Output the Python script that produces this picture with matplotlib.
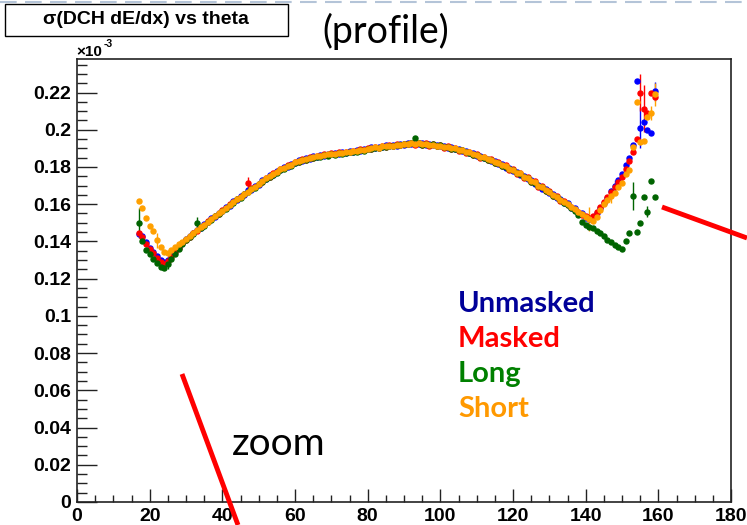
import numpy as np
import matplotlib
matplotlib.use("Agg")
import matplotlib.pyplot as plt
from matplotlib.ticker import MultipleLocator, FuncFormatter
from matplotlib.lines import Line2D
from matplotlib.patches import Rectangle

# theta bins (deg), one value per bin, y in units of 1e-3
theta = np.arange(17, 160)

unmasked = [
    .1440, .1430, .1395, .1365,
    .1345, .1320, .1298, .1290, .1302, .1325, .1348, .1372, .1392, .1412,
    .1431, .1443, .1462, .1472, .1494, .1502, .1524, .1531, .1555, .1561,
    .1585, .1592, .1616, .1622, .1646, .1650, .1674, .1678, .1700, .1703,
    .1728, .1733, .1755, .1758, .1779, .1782, .1800, .1802, .1818, .1820,
    .1835, .1834, .1847, .1845, .1857, .1853, .1865, .1861, .1872, .1867,
    .1876, .1872, .1880, .1876, .1886, .1879, .1891, .1887, .1898, .1894,
    .1905, .1900, .1909, .1906, .1916, .1911, .1919, .1915, .1924, .1919,
    .1928, .1922, .1932, .1921, .1930, .1918, .1923, .1917, .1919, .1911,
    .1913, .1904, .1905, .1895, .1897, .1885, .1886, .1873, .1873, .1860,
    .1860, .1846, .1845, .1831, .1830, .1815, .1814, .1797, .1795, .1778,
    .1774, .1756, .1752, .1734, .1729, .1709, .1705, .1684, .1680, .1658,
    .1655, .1633, .1628, .1605, .1604, .1578, .1580, .1551, .1552, .1528,
    .1520, .1530, .1555, .1580, .1605, .1635, .1670, .1700, .1730, .1760,
    .1810, .1850, .1920, .2260, .2010, .2044, .2000, .1980, .2206,
]
masked = [
    .1447, .1425, .1385, .1360,
    .1340, .1312, .1290, .1280, .1295, .1318, .1342, .1365, .1390, .1410,
    .1426, .1447, .1457, .1478, .1489, .1509, .1518, .1538, .1549, .1570,
    .1578, .1599, .1610, .1629, .1637, .1657, .1716, .1685, .1692, .1711,
    .1720, .1740, .1747, .1765, .1772, .1789, .1793, .1809, .1811, .1827,
    .1828, .1841, .1840, .1852, .1850, .1860, .1858, .1868, .1865, .1874,
    .1869, .1879, .1874, .1882, .1880, .1886, .1884, .1894, .1891, .1901,
    .1898, .1907, .1902, .1912, .1909, .1917, .1912, .1922, .1917, .1926,
    .1921, .1928, .1920, .1929, .1917, .1927, .1913, .1922, .1910, .1917,
    .1904, .1911, .1896, .1903, .1887, .1893, .1876, .1882, .1863, .1869,
    .1850, .1855, .1836, .1841, .1820, .1824, .1803, .1808, .1785, .1789,
    .1763, .1768, .1742, .1746, .1718, .1722, .1695, .1697, .1669, .1671,
    .1644, .1643, .1617, .1616, .1594, .1587, .1569, .1560, .1543, .1537,
    .1525, .1535, .1560, .1585, .1610, .1640, .1665, .1690, .1720, .1745,
    .1790, .1830, .1880, .1950, .2200, .2114, .2090, .2200, .2175,
]
long_ = [
    .1500, .1400, .1356, .1330,
    .1305, .1285, .1262, .1255, .1280, .1305, .1330, .1358, .1385, .1408,
    .1425, .1440, .1500, .1471, .1484, .1503, .1513, .1534, .1545, .1564,
    .1575, .1596, .1606, .1626, .1635, .1654, .1663, .1682, .1689, .1707,
    .1717, .1736, .1744, .1759, .1767, .1783, .1789, .1803, .1807, .1821,
    .1824, .1835, .1836, .1846, .1846, .1855, .1854, .1862, .1861, .1868,
    .1866, .1873, .1872, .1877, .1878, .1881, .1880, .1889, .1888, .1896,
    .1895, .1902, .1900, .1908, .1906, .1913, .1911, .1918, .1916, .1922,
    .1922, .1928, .1958, .1930, .1920, .1926, .1916, .1921, .1912, .1916,
    .1906, .1908, .1898, .1899, .1889, .1889, .1878, .1877, .1865, .1864,
    .1852, .1850, .1838, .1836, .1822, .1819, .1806, .1802, .1787, .1783,
    .1766, .1762, .1744, .1740, .1721, .1716, .1697, .1690, .1672, .1664,
    .1646, .1637, .1620, .1609, .1596, .1581, .1562, .1540, .1505, .1490,
    .1480, .1470, .1455, .1445, .1430, .1410, .1395, .1380, .1370, .1358,
    .1400, .1447, .1646, .1453, .1500, .1640, .1560, .1727, .1640,
]
short = [
    .1615, .1580, .1525, .1485,
    .1455, .1405, .1370, .1345, .1340, .1352, .1368, .1385, .1398, .1413,
    .1428, .1445, .1459, .1476, .1490, .1506, .1520, .1536, .1550, .1566,
    .1580, .1597, .1611, .1627, .1640, .1655, .1668, .1683, .1694, .1709,
    .1722, .1738, .1749, .1763, .1773, .1787, .1795, .1807, .1813, .1825,
    .1830, .1839, .1842, .1850, .1852, .1858, .1860, .1866, .1867, .1872,
    .1871, .1877, .1876, .1880, .1882, .1884, .1886, .1892, .1893, .1899,
    .1900, .1905, .1904, .1910, .1911, .1915, .1914, .1920, .1919, .1924,
    .1923, .1929, .1925, .1927, .1921, .1925, .1918, .1920, .1914, .1915,
    .1908, .1909, .1900, .1901, .1892, .1891, .1881, .1879, .1868, .1866,
    .1855, .1852, .1841, .1838, .1825, .1821, .1809, .1805, .1790, .1786,
    .1769, .1765, .1747, .1743, .1724, .1719, .1700, .1693, .1675, .1667,
    .1649, .1640, .1623, .1612, .1599, .1584, .1574, .1556, .1547, .1532,
    .1521, .1512, .1530, .1570, .1600, .1625, .1645, .1660, .1695, .1716,
    .1760, .1786, .1905, .2147, .1935, .1937, .2070, .2090, .2190,
]

# typical error and the bins where the error bar is clearly visible
base_err = 0.0010
unmasked_err = {155: 0.011, 159: 0.005, 148: 0.003}
masked_err = {47: 0.003, 155: 0.010, 156: 0.0125, 150: 0.003}
long_err = {17: 0.008, 33: 0.003, 153: 0.0075, 157: 0.003, 25: 0.003}
short_err = {22: 0.004, 141: 0.0065, 147: 0.004, 158: 0.004, 159: 0.006}

series = [
    (unmasked, unmasked_err, "#0000ff"),
    (masked, masked_err, "#ff0000"),
    (long_, long_err, "#006400"),
    (short, short_err, "#ffa000"),
]

W, H = 747, 525


def fx(px):
    return px / W


def fy(py):
    return 1 - py / H


fig = plt.figure(figsize=(W / 100, H / 100), dpi=100)
ax = fig.add_axes([fx(77), fy(502), 654 / W, 443 / H])

for vals, big, col in series:
    y = np.array(vals)
    e = np.full(len(y), base_err)
    for k, v in big.items():
        e[k - theta[0]] = v
    ax.errorbar(theta, y, yerr=e, fmt="o", ms=3.6, color=col, mec=col,
                elinewidth=1.0, capsize=0)

ax.set_xlim(0, 180)
ax.set_ylim(0, 0.238)
ax.xaxis.set_major_locator(MultipleLocator(20))
ax.xaxis.set_minor_locator(MultipleLocator(5))
ax.yaxis.set_major_locator(MultipleLocator(0.02))
ax.yaxis.set_minor_locator(MultipleLocator(0.005))
ax.yaxis.set_major_formatter(FuncFormatter(lambda v, p: f"{v:.2f}".rstrip("0").rstrip(".")))
ax.tick_params(axis="both", which="both", direction="in", top=False, right=False,
               color="#222222", width=1.0)
ax.tick_params(axis="x", which="major", length=9.5, pad=4)
ax.tick_params(axis="x", which="minor", length=4.8)
ax.tick_params(axis="y", which="major", length=14.4, pad=4)
ax.tick_params(axis="y", which="minor", length=7.2)
for lab in ax.get_xticklabels() + ax.get_yticklabels():
    lab.set_fontfamily("Liberation Sans")
    lab.set_fontweight("bold")
    lab.set_fontsize(14)
for s in ax.spines.values():
    s.set_linewidth(1.2)
    s.set_color("#222222")

# x10^-3 multiplier
fig.text(fx(76), fy(56), "\u00d710", fontsize=11, fontweight="bold",
         family="Liberation Sans", va="baseline")
fig.text(fx(104), fy(47), "-3", fontsize=7.5, fontweight="bold",
         family="Liberation Sans", va="baseline")

# histogram title box
fig.add_artist(Rectangle((fx(5), fy(36)), fx(288) - fx(5), fy(4) - fy(36),
                         transform=fig.transFigure, fc="white", ec="black", lw=1.0))
fig.text(fx(146), fy(20), "\u03c3(DCH dE/dx) vs theta", fontsize=14, fontweight="bold",
         family="Liberation Sans", ha="center", va="center")

fig.text(fx(322), fy(31), "(profile)", fontsize=27, family="Lato", va="center")
fig.text(fx(232), fy(455), "zoom", fontsize=28, family="Lato", va="baseline")

labels = ["Unmasked", "Masked", "Long", "Short"]
label_colors = ["#000099", "#ff0000", "#008000", "#ff9900"]
for i, (t, c) in enumerate(zip(labels, label_colors)):
    fig.text(fx(458), fy(312 + 35 * i), t, fontsize=21, fontweight="bold",
             family="Lato", color=c, va="baseline")

# slide decorations
fig.add_artist(Line2D([0, 1], [fy(1.5), fy(1.5)], transform=fig.transFigure,
                      color="#b4c4d8", lw=1.5, ls=(0, (8, 4))))
fig.add_artist(Line2D([fx(182), fx(238)], [fy(374), fy(525)], transform=fig.transFigure,
                      color="#ff0000", lw=3.5, solid_capstyle="butt"))
fig.add_artist(Line2D([fx(662), fx(747)], [fy(207), fy(238)], transform=fig.transFigure,
                      color="#ff0000", lw=3.5, solid_capstyle="butt"))

fig.savefig("out.png", dpi=100)
